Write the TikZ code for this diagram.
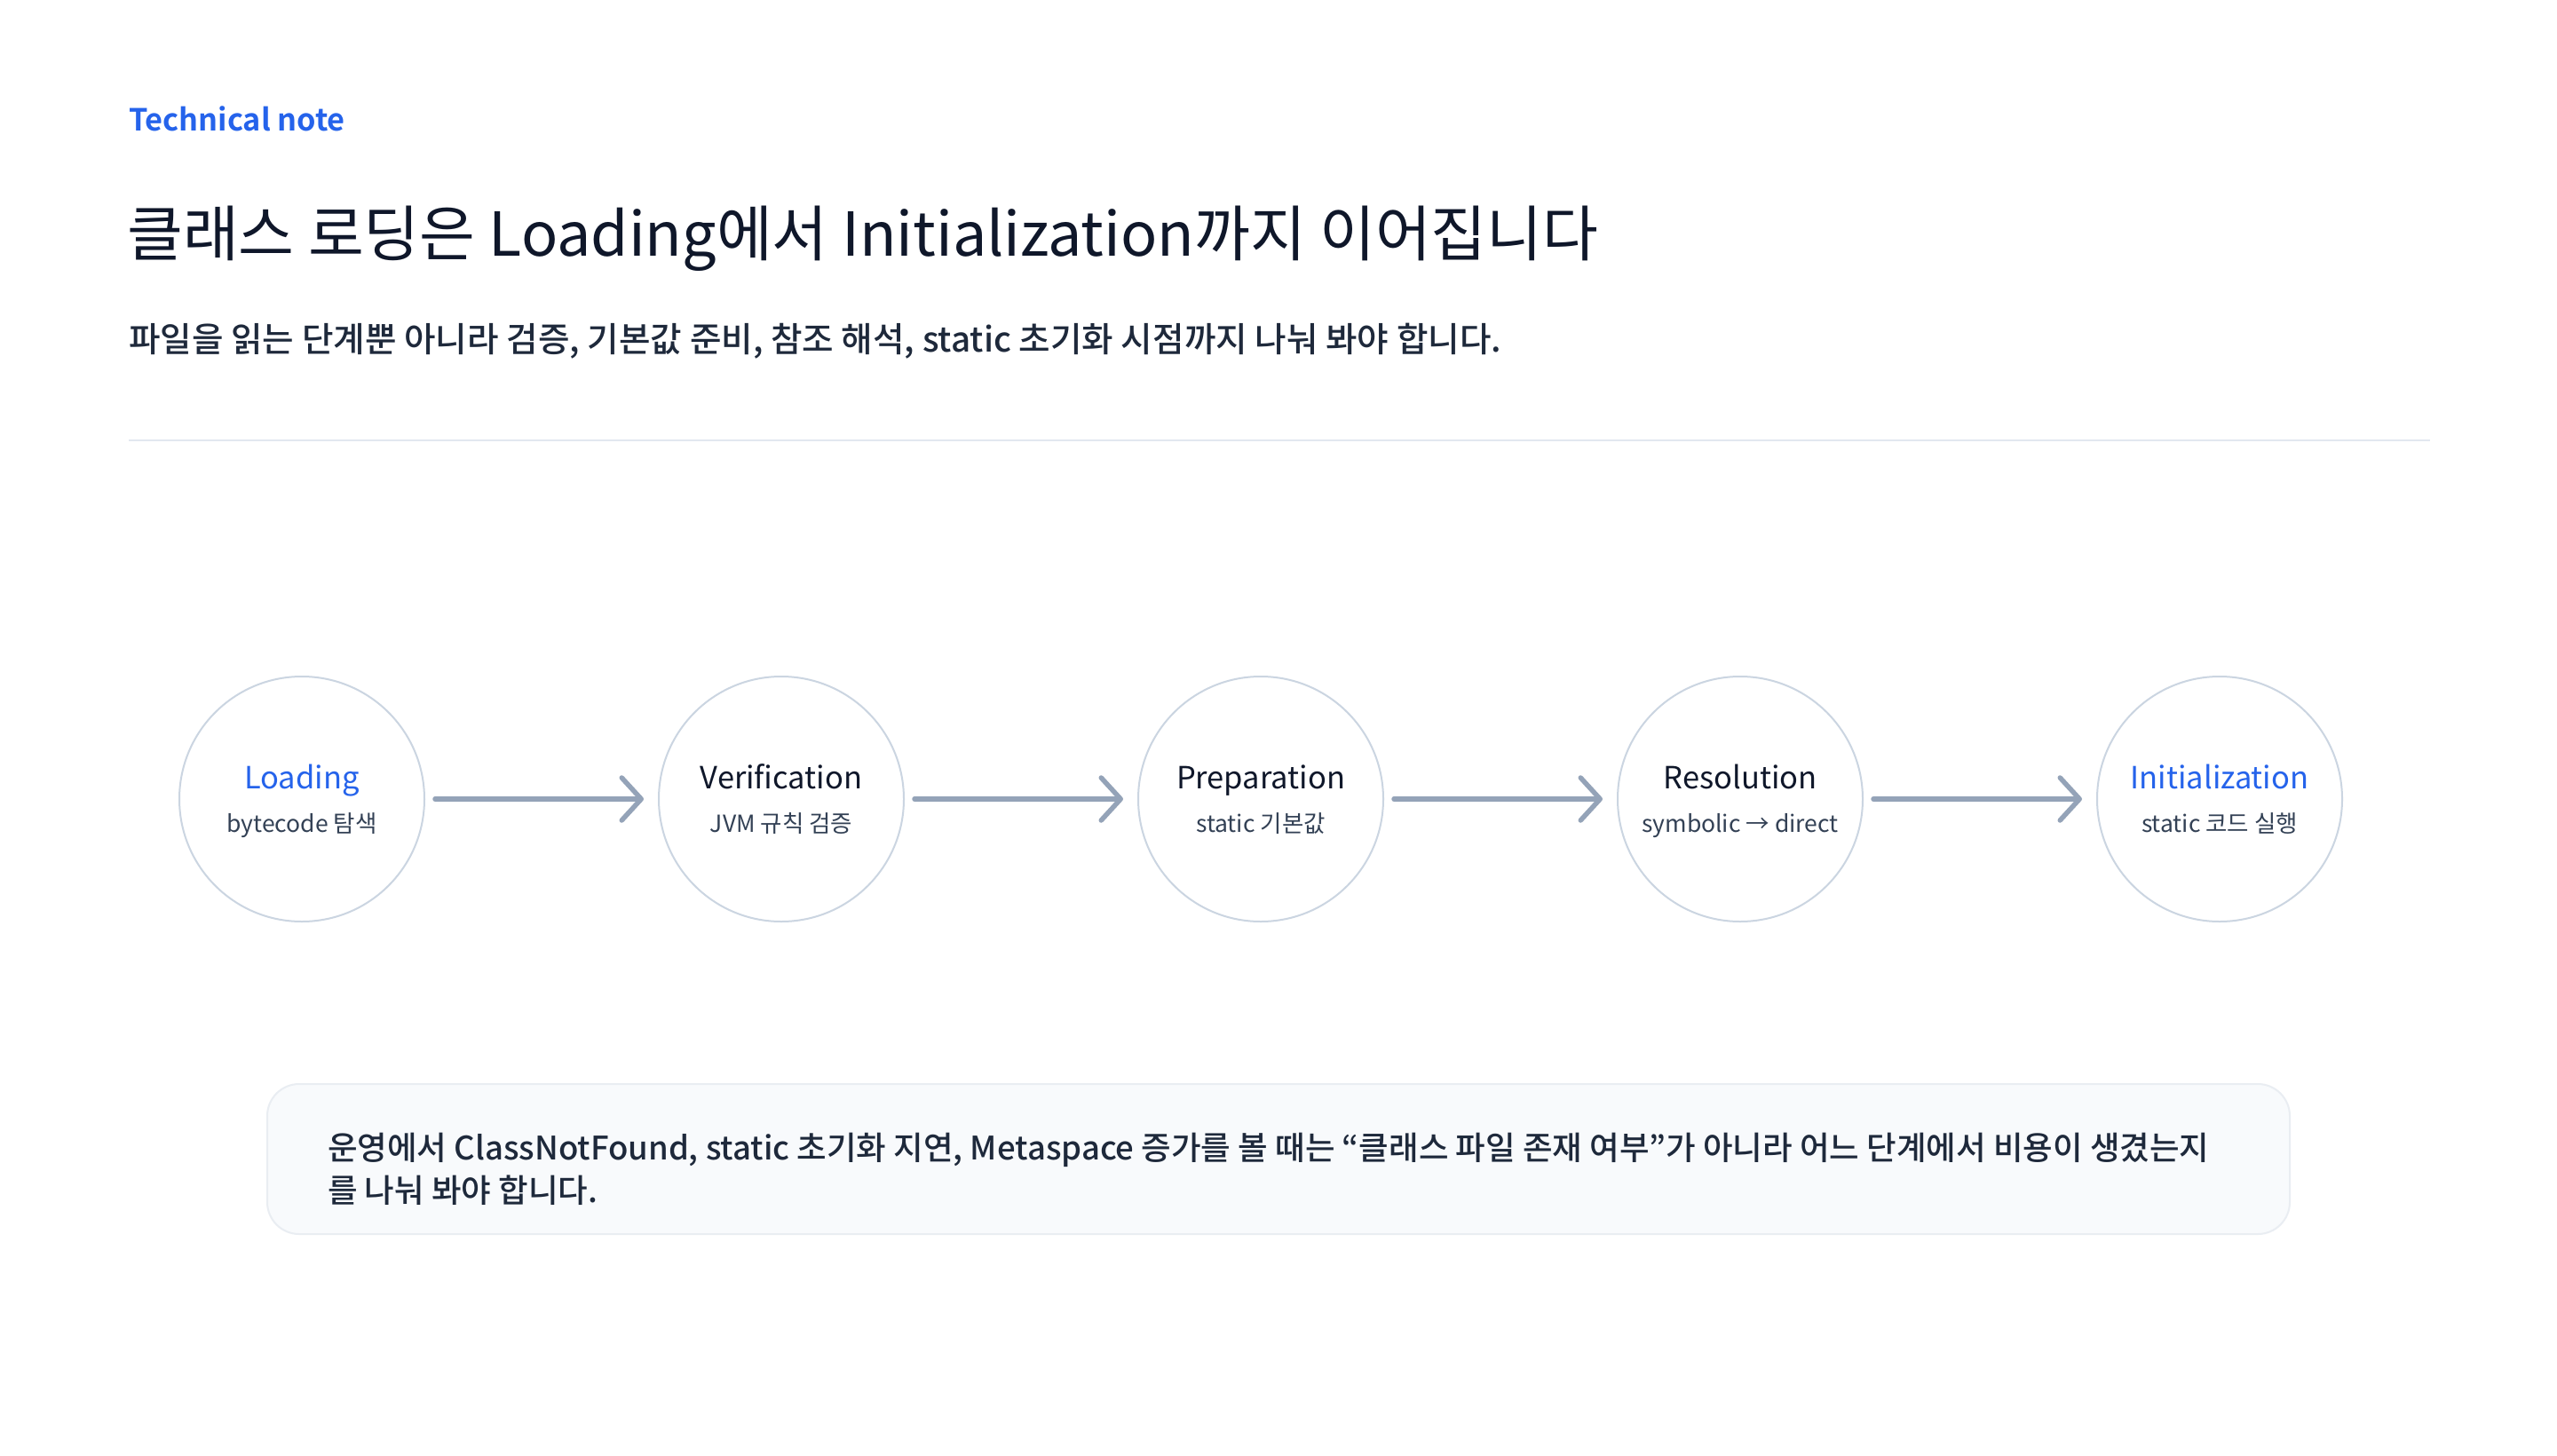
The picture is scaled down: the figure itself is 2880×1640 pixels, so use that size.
\documentclass[tikz,border=0pt]{standalone}
\usepackage{fontspec}
\setmainfont{Noto Sans CJK KR}
\newfontfamily\krmed{Noto Sans CJK KR Medium}
\newfontfamily\krbold{Noto Sans CJK KR Bold}
\usetikzlibrary{arrows.meta}
\definecolor{accent}{HTML}{2563EB}
\definecolor{ink}{HTML}{0F172A}
\definecolor{body}{HTML}{1E293B}
\definecolor{sub}{HTML}{334155}
\definecolor{rule}{HTML}{E2E8F0}
\definecolor{ring}{HTML}{CBD5E1}
\definecolor{arrowc}{HTML}{94A3B8}
\definecolor{boxfill}{HTML}{F8FAFC}
\definecolor{boxline}{HTML}{E9EDF2}
\tikzset{
  stage/.style={circle, draw=ring, line width=2pt, minimum size=276pt, inner sep=0pt},
  stagename/.style={anchor=base, font=\fontsize{34.5}{40}\selectfont, text=ink, inner sep=0pt},
  stagesub/.style={anchor=base, font=\fontsize{26.5}{30}\selectfont, text=sub, inner sep=0pt},
  flow/.style={draw=arrowc, line width=5.5pt, line cap=round,
    -{Straight Barb[length=22pt, width=48pt, line width=5.5pt, round]},
    shorten <=11pt, shorten >=16pt},
}
\begin{document}
\begin{tikzpicture}[x=1pt, y=-1pt]
\useasboundingbox (0,0) rectangle (2880,1640);
\fill[white] (0,0) rectangle (2880,1640);

\node[anchor=base west, inner sep=0pt, text=accent, font=\krbold\fontsize{34.3}{40}\selectfont] (kicker) at (145,148) {Technical note};
\node[anchor=base west, inner sep=0pt, text=ink, font=\fontsize{68.3}{78}\selectfont] (title) at (143,288) {클래스 로딩은 Loading에서 Initialization까지 이어집니다};
\node[anchor=base west, inner sep=0pt, text=body, font=\krmed\fontsize{38.6}{46}\selectfont] (subtitle) at (145,396) {파일을 읽는 단계뿐 아니라 검증, 기본값 준비, 참조 해석, static 초기화 시점까지 나눠 봐야 합니다.};

\coordinate (ruleL) at (145,496);
\coordinate (ruleR) at (2737,496);
\draw[rule, line width=2pt] (ruleL) -- (ruleR);

\node[stage] (s1) at (340,900) {};
\node[stage] (s2) at (880,900) {};
\node[stage] (s3) at (1420,900) {};
\node[stage] (s4) at (1960,900) {};
\node[stage] (s5) at (2500,900) {};

\node[stagename, text=accent] (n1) at (340,888) {Loading};
\node[stagesub] (d1) at (340,937) {bytecode 탐색};
\node[stagename] (n2) at (880,888) {Verification};
\node[stagesub] (d2) at (880,937) {JVM 규칙 검증};
\node[stagename] (n3) at (1420,888) {Preparation};
\node[stagesub] (d3) at (1420,937) {static 기본값};
\node[stagename] (n4) at (1960,888) {Resolution};
\node[stagesub] (d4) at (1960,937) {symbolic → direct};
\node[stagename, text=accent] (n5) at (2500,888) {Initialization};
\node[stagesub] (d5) at (2500,937) {static 코드 실행};

\draw[flow] (s1.east) -- (s2.west);
\draw[flow] (s2.east) -- (s3.west);
\draw[flow] (s3.east) -- (s4.west);
\draw[flow] (s4.east) -- (s5.west);

\node[draw=boxline, fill=boxfill, line width=2pt, rounded corners=36pt, minimum width=2278pt, minimum height=169pt, inner sep=0pt] (note) at (1440,1305.5) {};
\node[anchor=base west, inner sep=0pt, text=body, align=left, font=\krmed\fontsize{36.5}{48}\selectfont] (notetext) at (369,1354) {운영에서 ClassNotFound, static 초기화 지연, Metaspace 증가를 볼 때는 “클래스 파일 존재 여부”가 아니라 어느 단계에서 비용이 생겼는지\\를 나눠 봐야 합니다.};
\end{tikzpicture}
\end{document}
